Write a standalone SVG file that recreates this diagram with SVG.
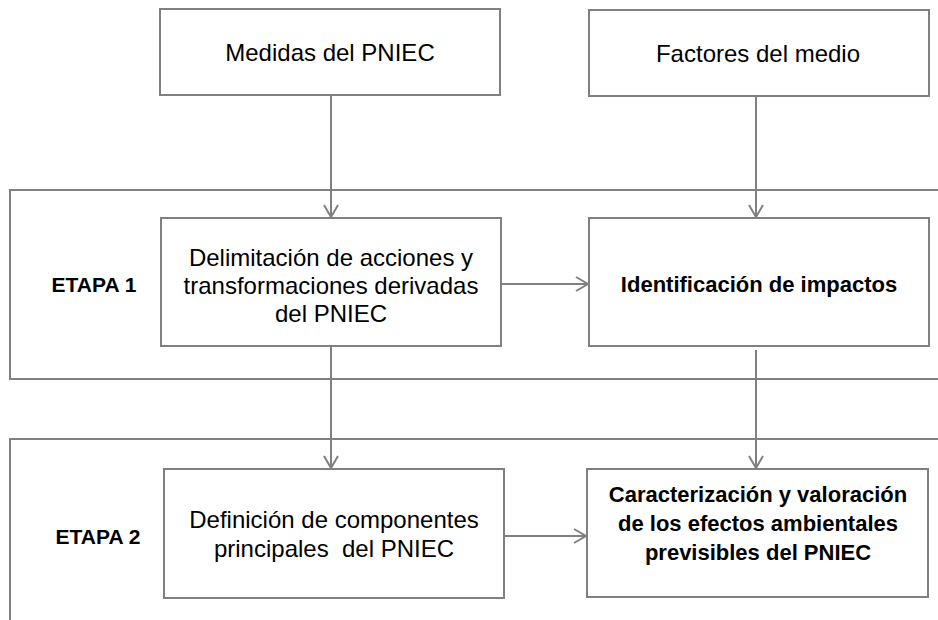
<svg xmlns="http://www.w3.org/2000/svg" width="938" height="620" viewBox="0 0 938 620">
  <defs>
    <style>
      .box { fill: #ffffff; stroke: #808080; stroke-width: 2; }
      .frame { fill: none; stroke: #808080; stroke-width: 2; }
      .conn { fill: none; stroke: #808080; stroke-width: 2; marker-end: url(#arrow); }
      .t { font-family: "Liberation Sans", Arial, sans-serif; font-size: 24px; fill: #000000; text-anchor: middle; }
      .b { font-family: "Liberation Sans", Arial, sans-serif; font-size: 22px; font-weight: bold; fill: #000000; text-anchor: middle; }
      .stage { font-family: "Liberation Sans", Arial, sans-serif; font-size: 21px; font-weight: bold; fill: #000000; text-anchor: middle; }
    </style>
    <marker id="arrow" markerUnits="userSpaceOnUse" viewBox="-14 -9 16 18" refX="0" refY="0" markerWidth="16" markerHeight="18" orient="auto">
      <path d="M -12 -7 L 0 0 L -12 7" fill="none" stroke="#808080" stroke-width="2"/>
    </marker>
  </defs>

  <g id="etapa1">
    <path class="frame" d="M 940 190 H 10 V 379 H 940"/>
    <text class="stage" x="94" y="292">ETAPA 1</text>
  </g>
  <g id="etapa2">
    <path class="frame" d="M 940 439 H 10 V 625"/>
    <text class="stage" x="98" y="544">ETAPA 2</text>
  </g>

  <g id="medidas">
    <rect class="box" x="160" y="9" width="340" height="86"/>
    <text class="t" x="330" y="61">Medidas del PNIEC</text>
  </g>
  <g id="factores">
    <rect class="box" x="589" y="10" width="340" height="86"/>
    <text class="t" x="758" y="62">Factores del medio</text>
  </g>
  <g id="delimitacion">
    <rect class="box" x="161" y="218" width="340" height="128"/>
    <text class="t" x="331" y="266">Delimitación de acciones y</text>
    <text class="t" x="331" y="294">transformaciones derivadas</text>
    <text class="t" x="331" y="322">del PNIEC</text>
  </g>
  <g id="identificacion">
    <rect class="box" x="589" y="218" width="340" height="128"/>
    <text class="b" x="759" y="292">Identificación de impactos</text>
  </g>
  <g id="definicion">
    <rect class="box" x="164" y="469" width="340" height="129"/>
    <text class="t" x="334" y="528">Definición de componentes</text>
    <text class="t" x="334" y="557" xml:space="preserve">principales  del PNIEC</text>
  </g>
  <g id="caracterizacion">
    <rect class="box" x="587" y="469" width="341" height="128"/>
    <text class="b" x="758" y="502">Caracterización y valoración</text>
    <text class="b" x="758" y="531">de los efectos ambientales</text>
    <text class="b" x="758" y="560">previsibles del PNIEC</text>
  </g>

  <g id="connectors">
    <line class="conn" x1="331" y1="95" x2="331" y2="217"/>
    <line class="conn" x1="756" y1="96" x2="756" y2="217"/>
    <line class="conn" x1="501" y1="284" x2="588" y2="284"/>
    <line class="conn" x1="331" y1="346" x2="331" y2="468"/>
    <line class="conn" x1="756" y1="350" x2="756" y2="468"/>
    <line class="conn" x1="504" y1="536" x2="586" y2="536"/>
  </g>
</svg>
